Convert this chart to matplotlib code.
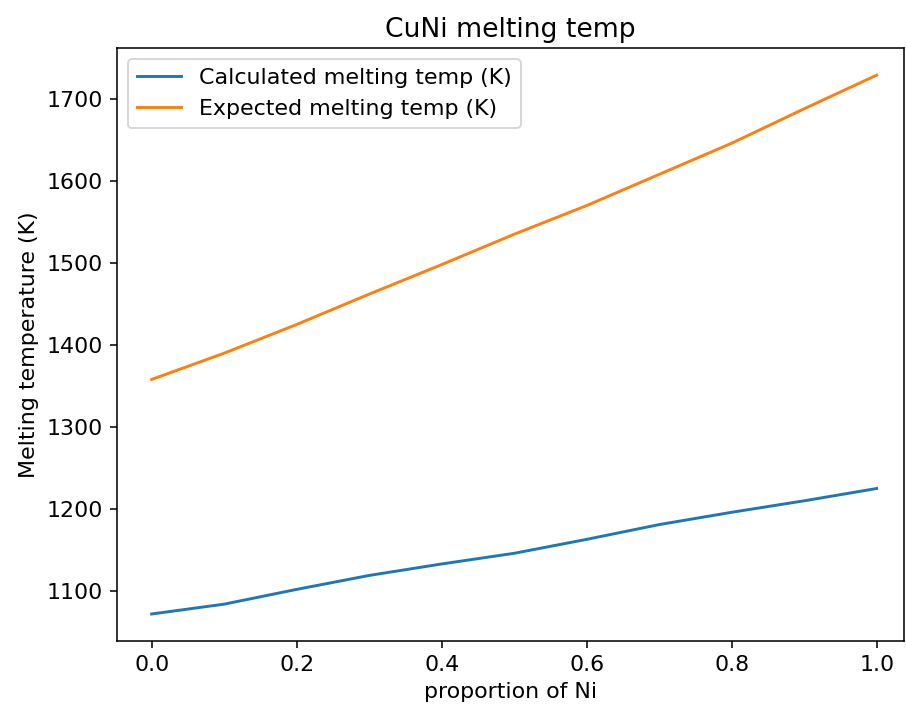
import matplotlib
matplotlib.use("Agg")
import matplotlib.pyplot as plt

proportion_ni = [0.0, 0.1, 0.2, 0.3, 0.4, 0.5, 0.6, 0.7, 0.8, 0.9, 1.0]
calculated_temp = [1072, 1084, 1102, 1119, 1133, 1146, 1163, 1181, 1196, 1210, 1225]
expected_temp = [1358, 1390, 1425, 1462, 1498, 1535, 1570, 1608, 1646, 1688, 1729]

plt.rcParams["font.size"] = 11.4

fig = plt.figure(figsize=(906 / 140, 709 / 140), dpi=140)
ax = fig.add_subplot(111)
fig.subplots_adjust(left=0.129, right=0.998, top=0.932, bottom=0.096)

ax.plot(proportion_ni, calculated_temp, label="Calculated melting temp (K)")
ax.plot(proportion_ni, expected_temp, label="Expected melting temp (K)")
ax.set_xlim(-0.048, 1.038)
ax.set_title("CuNi melting temp")
ax.set_xlabel("proportion of Ni")
ax.set_ylabel("Melting temperature (K)")
ax.legend(loc="upper left")

fig.savefig("out.png", dpi=140)
